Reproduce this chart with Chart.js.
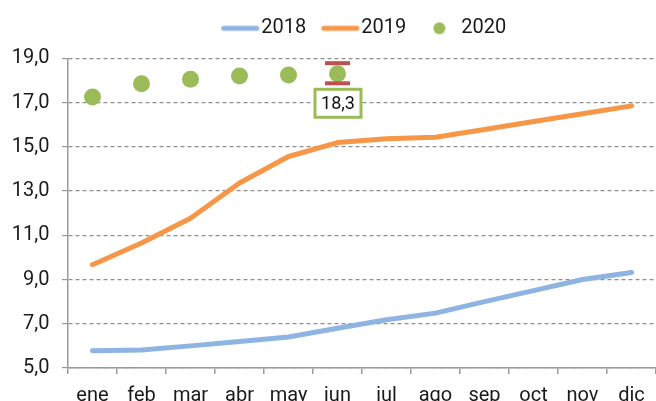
<!DOCTYPE html>
<html>
<head>
<meta charset="utf-8">
<script src="https://cdn.jsdelivr.net/npm/chart.js@4.4.1/dist/chart.umd.min.js"></script>
<style>
  html, body { margin: 0; padding: 0; background: #fff; overflow: hidden; }
  canvas { display: block; }
</style>
</head>
<body>
<canvas id="grafico" width="656" height="401"></canvas>
<script>
// datos
const meses = ['ene', 'feb', 'mar', 'abr', 'may', 'jun', 'jul', 'ago', 'sep', 'oct', 'nov', 'dic'];
const serie2018 = [5.78, 5.81, 6.0, 6.2, 6.4, 6.8, 7.18, 7.48, 8.0, 8.5, 9.0, 9.32];
const serie2019 = [9.67, 10.65, 11.77, 13.36, 14.56, 15.19, 15.36, 15.43, 15.78, 16.14, 16.49, 16.85];
const serie2020 = [17.25, 17.85, 18.05, 18.2, 18.25, 18.3, null, null, null, null, null, null];
const errorMin2020 = [null, null, null, null, null, 17.87, null, null, null, null, null, null];
const errorMax2020 = [null, null, null, null, null, 18.78, null, null, null, null, null, null];
const indiceEtiqueta = 5;
const ejeYMin = 5;
const ejeYMax = 19;
const ejeYPaso = 2;

const AZUL = '#8db4e2';
const NARANJA = '#f79646';
const VERDE = '#9bbb59';
const ROJO = '#c0504d';
const GRIS = '#9a9a9a';

const formato = v => v.toFixed(1).replace('.', ',');

// iconos de la leyenda (línea o punto), dibujados a la izquierda del texto
function icono(tipo, color) {
  const c = document.createElement('canvas');
  c.width = 54;
  c.height = 20;
  const g = c.getContext('2d');
  if (tipo === 'linea') {
    g.strokeStyle = color;
    g.lineWidth = 5;
    g.lineCap = 'round';
    g.beginPath();
    g.moveTo(16.25, 10);
    g.lineTo(49.25, 10);
    g.stroke();
  } else {
    g.fillStyle = color;
    g.beginPath();
    g.arc(31.75, 10, 6, 0, Math.PI * 2);
    g.fill();
  }
  return c;
}
const iconos = [icono('linea', AZUL), icono('linea', NARANJA), icono('punto', VERDE)];

// barras de error (solo topes) y etiqueta del último dato
const extras = {
  id: 'extras',
  afterDatasetsDraw(chart) {
    const {ctx, scales: {x, y}} = chart;
    ctx.save();
    ctx.strokeStyle = ROJO;
    ctx.lineWidth = 4;
    errorMin2020.forEach((lo, i) => {
      if (lo == null) return;
      const px = x.getPixelForValue(i);
      [lo, errorMax2020[i]].forEach(v => {
        const py = y.getPixelForValue(v);
        ctx.beginPath();
        ctx.moveTo(px - 12.5, py);
        ctx.lineTo(px + 12.5, py);
        ctx.stroke();
      });
    });

    const px = x.getPixelForValue(indiceEtiqueta) + 0.5;
    const py = y.getPixelForValue(serie2020[indiceEtiqueta]) + 29.5;
    ctx.fillStyle = '#fff';
    ctx.fillRect(px - 23, py - 14, 46, 28);
    ctx.strokeStyle = VERDE;
    ctx.lineWidth = 3;
    ctx.strokeRect(px - 23, py - 14, 46, 28);
    ctx.fillStyle = '#111';
    ctx.font = '18px Roboto';
    ctx.textAlign = 'center';
    ctx.textBaseline = 'middle';
    ctx.fillText(formato(serie2020[indiceEtiqueta]), px, py + 1);
    ctx.restore();
  }
};

Chart.defaults.font.family = 'Roboto';
Chart.defaults.font.size = 20;
Chart.defaults.color = '#1a1a1a';

const ctx = document.getElementById('grafico').getContext('2d');
const grafico = new Chart(ctx, {
  type: 'line',
  data: {
    labels: meses,
    datasets: [{
      label: '2018',
      data: serie2018,
      borderColor: AZUL,
      backgroundColor: AZUL,
      borderWidth: 5,
      borderCapStyle: 'round',
      borderJoinStyle: 'round',
      pointRadius: 0,
      tension: 0
    }, {
      label: '2019',
      data: serie2019,
      borderColor: NARANJA,
      backgroundColor: NARANJA,
      borderWidth: 5,
      borderCapStyle: 'round',
      borderJoinStyle: 'round',
      pointRadius: 0,
      tension: 0
    }, {
      label: '2020',
      data: serie2020,
      showLine: false,
      borderColor: VERDE,
      backgroundColor: VERDE,
      pointRadius: 8.5,
      pointBorderWidth: 0
    }]
  },
  options: {
    responsive: false,
    animation: false,
    events: [],
    layout: { autoPadding: false, padding: { top: 6.7, left: 0, right: 0, bottom: 0 } },
    plugins: {
      tooltip: { enabled: false },
      // separador vacío entre la leyenda y el área del gráfico
      title: {
        display: true,
        text: ' ',
        position: 'top',
        weight: 500,
        font: { size: 10, lineHeight: 1 },
        padding: 0
      },
      legend: {
        position: 'top',
        fullSize: false,
        labels: {
          usePointStyle: true,
          pointStyleWidth: 33.5,
          padding: 11.6,
          generateLabels: chart => chart.data.datasets.map((ds, i) => ({
            text: ds.label,
            pointStyle: iconos[i],
            datasetIndex: i,
            hidden: false,
            lineWidth: 0,
            fillStyle: 'transparent',
            strokeStyle: 'transparent',
            fontColor: '#1a1a1a'
          }))
        }
      }
    },
    scales: {
      x: {
        offset: true,
        grid: { display: true, drawOnChartArea: false, drawTicks: true, offset: true, tickLength: 6, color: GRIS, tickColor: GRIS, lineWidth: 1.5 },
        border: { display: true, color: GRIS, width: 1.5 },
        ticks: { padding: 10, maxRotation: 0, autoSkip: false },
        afterFit: s => { s.height = 33; s.paddingLeft = 0; s.paddingRight = 0; }
      },
      y: {
        min: ejeYMin,
        max: ejeYMax,
        ticks: { stepSize: ejeYPaso, padding: 12.5, callback: v => formato(v) },
        grid: { color: '#8f8f8f', tickColor: GRIS, tickLength: 6, lineWidth: 1.2 },
        border: { display: true, color: GRIS, width: 1.5, dash: [4, 3] },
        afterFit: s => { s.width = 68; }
      }
    }
  },
  plugins: [extras]
});
</script>
</body>
</html>
